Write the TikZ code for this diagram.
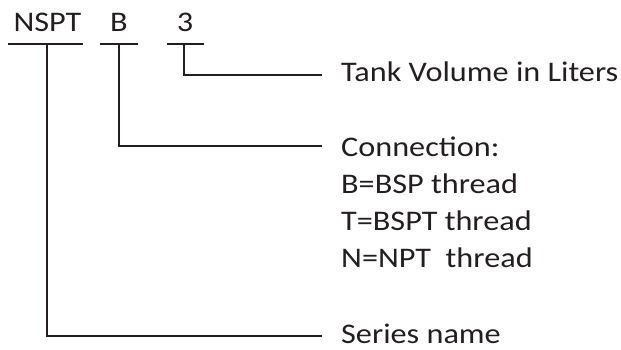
\documentclass[tikz,border=0pt]{standalone}
\usepackage{fontspec}
\setmainfont{Carlito}[FakeStretch=1.135]
\definecolor{ink}{HTML}{231F20}
\begin{document}
\begin{tikzpicture}[x=1pt,y=-1pt,
  lbl/.style={inner sep=0pt,anchor=base west,text=ink,font=\fontsize{28.4}{34}\selectfont},
  top/.style={inner sep=0pt,anchor=base,text=ink,font=\fontsize{28.4}{34}\selectfont},
  ln/.style={draw=ink,line width=2pt}]
\useasboundingbox (0,0) rectangle (621,349);
% codes
\node[top] (nspt) at (47.5,31.7) {NSPT};
\node[top] (b) at (119,31.7) {B};
\node[top] (three) at (185,31.7) {3};
% underlines
\coordinate (n1) at (8,44); \coordinate (n2) at (83,44); \coordinate (nm) at (46.5,44);
\coordinate (b1) at (100,44); \coordinate (b2) at (138,44); \coordinate (bm) at (119,44);
\coordinate (t1) at (167,44); \coordinate (t2) at (204,44); \coordinate (tm) at (184,44);
\draw[ln] (n1) -- (n2);
\draw[ln] (b1) -- (b2);
\draw[ln] (t1) -- (t2);
% descriptions
\node[lbl] (tank) at (341,81.7) {Tank Volume in Liters};
\node[lbl] (conn) at (341,156.7) {Connection:};
\node[lbl] (bsp) at (341,193.3) {B=BSP thread};
\node[lbl] (bspt) at (341,230) {T=BSPT thread};
\node[lbl] (npt) at (341,267.3) {N=NPT\ \ thread};
\node[lbl] (series) at (341,343.5) {Series name};
% line ends
\coordinate (e3) at (322,75);
\coordinate (eb) at (322,146);
\coordinate (en) at (322,335.5);
\draw[ln] (tm) |- (e3);
\draw[ln] (bm) |- (eb);
\draw[ln] (nm) |- (en);
\end{tikzpicture}
\end{document}
